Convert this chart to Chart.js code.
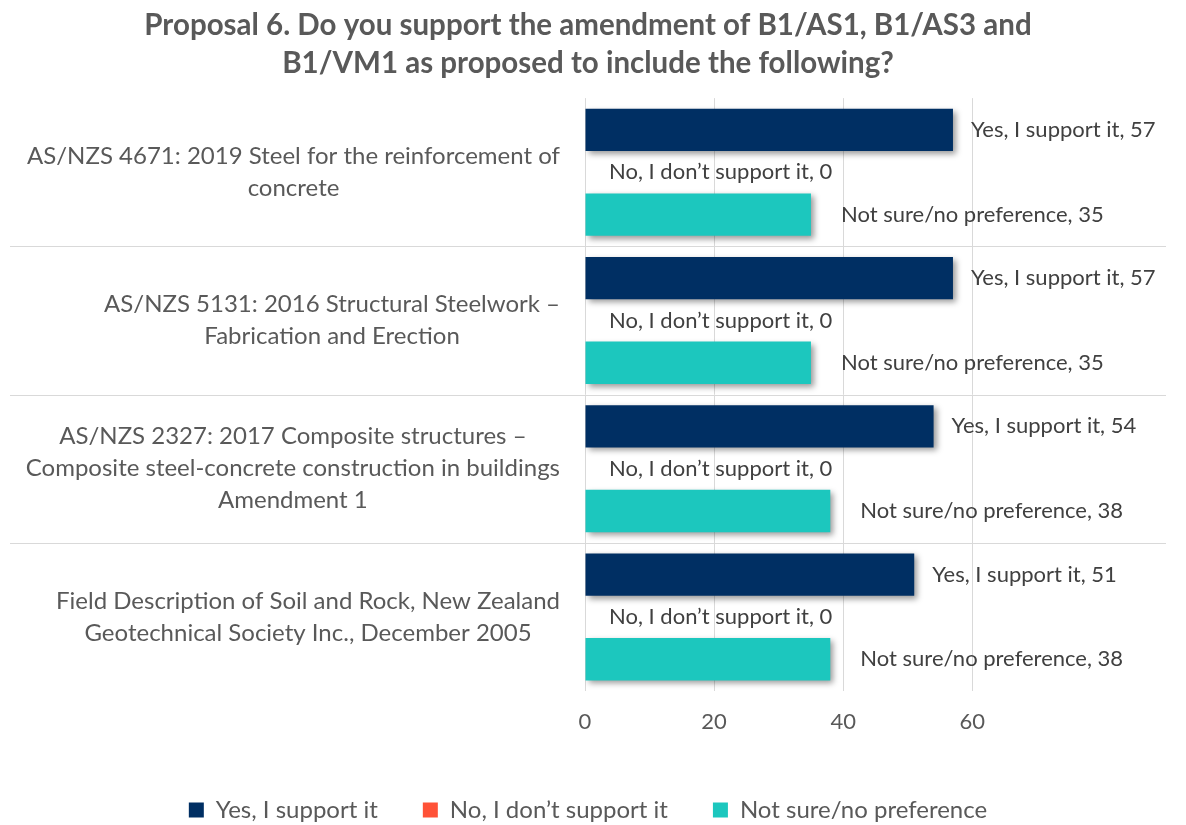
<!DOCTYPE html>
<html>
<head>
<meta charset="utf-8">
<script src="https://cdn.jsdelivr.net/npm/chart.js@4.4.1/dist/chart.umd.min.js"></script>
<style>
    body { margin: 0; background: #ffffff; }
    #wrap { width: 1186px; height: 825px; }
</style>
</head>
<body>
<div id="wrap"><canvas id="proposalChart"></canvas></div>
<script>
const categories = [
    ['AS/NZS 4671: 2019 Steel for the reinforcement of', 'concrete'],
    ['AS/NZS 5131: 2016 Structural Steelwork –', 'Fabrication and Erection'],
    ['AS/NZS 2327: 2017 Composite structures –', 'Composite steel-concrete construction in buildings', 'Amendment 1'],
    ['Field Description of Soil and Rock, New Zealand', 'Geotechnical Society Inc., December 2005']
];
const seriesNames = ['Yes, I support it', 'No, I don’t support it', 'Not sure/no preference'];
const yesValues = [57, 57, 54, 51];
const noValues = [0, 0, 0, 0];
const notSureValues = [35, 35, 38, 38];
const xTickValues = [0, 20, 40, 60];

const FONT = 'Lato, "Open Sans", sans-serif';
const TEXT_COLOR = '#595959';
const GRID_COLOR = '#d9d9d9';
const labelGap = [18, 24, 30]; // distance of the data label from bar end, per series

// separators between categories + Excel-like shadow under the bars
const barShadow = {
    id: 'barShadow',
    beforeDatasetsDraw(chart) {
        const { ctx, chartArea, scales: { y } } = chart;
        ctx.save();
        ctx.strokeStyle = GRID_COLOR;
        ctx.lineWidth = 1;
        for (let i = 1; i < categories.length; i++) {
            const yy = Math.round((y.getPixelForValue(i - 1) + y.getPixelForValue(i)) / 2) + 0.5;
            ctx.beginPath();
            ctx.moveTo(10, yy);
            ctx.lineTo(chartArea.right, yy);
            ctx.stroke();
        }
        ctx.restore();

        ctx.save();
        ctx.shadowColor = 'rgba(0, 0, 0, 0.4)';
        ctx.shadowBlur = 6;
        ctx.shadowOffsetX = 3;
        ctx.shadowOffsetY = 3;
    },
    afterDatasetsDraw(chart) {
        chart.ctx.restore();
    }
};

// category labels: block right-aligned to the axis, lines centred in the block
const categoryLabels = {
    id: 'categoryLabels',
    afterDraw(chart) {
        const { ctx, scales: { y } } = chart;
        ctx.save();
        ctx.font = `24px ${FONT}`;
        ctx.fillStyle = TEXT_COLOR;
        ctx.textAlign = 'center';
        ctx.textBaseline = 'middle';
        categories.forEach((lines, i) => {
            const w = Math.max(...lines.map(l => ctx.measureText(l).width));
            const cx = y.right - 25 - w / 2;
            const cy = y.getPixelForValue(i);
            lines.forEach((line, k) => {
                ctx.fillText(line, cx, cy + (k - (lines.length - 1) / 2) * 32);
            });
        });
        ctx.restore();
    }
};

// "Series, value" labels to the right of each bar
const barLabels = {
    id: 'barLabels',
    afterDatasetsDraw(chart) {
        const { ctx } = chart;
        ctx.save();
        ctx.font = `22px ${FONT}`;
        ctx.fillStyle = '#404040';
        ctx.textAlign = 'left';
        ctx.textBaseline = 'middle';
        chart.data.datasets.forEach((ds, di) => {
            const meta = chart.getDatasetMeta(di);
            meta.data.forEach((bar, i) => {
                ctx.fillText(`${ds.label}, ${ds.data[i]}`, bar.x + labelGap[di], bar.y);
            });
        });
        ctx.restore();
    }
};

const ctx = document.getElementById('proposalChart');
new Chart(ctx, {
    type: 'bar',
    data: {
        labels: categories,
        datasets: [
            { label: seriesNames[0], data: yesValues, backgroundColor: '#002f63' },
            { label: seriesNames[1], data: noValues, backgroundColor: '#ff5237' },
            { label: seriesNames[2], data: notSureValues, backgroundColor: '#1cc7be' }
        ]
    },
    options: {
        indexAxis: 'y',
        responsive: true,
        maintainAspectRatio: false,
        animation: false,
        datasets: {
            bar: { barPercentage: 1, categoryPercentage: 0.857, borderWidth: 0 }
        },
        layout: { padding: { left: 10, right: 20, top: 0, bottom: 0 } },
        scales: {
            x: {
                min: 0,
                max: 90,
                afterBuildTicks: scale => { scale.ticks = xTickValues.map(v => ({ value: v })); },
                grid: { color: GRID_COLOR, drawTicks: false },
                border: { display: false },
                ticks: { color: TEXT_COLOR, font: { family: FONT, size: 22, lineHeight: 1.0 }, padding: 20 }
            },
            y: {
                grid: { display: false },
                border: { display: false },
                ticks: { display: false },
                afterFit: scale => { scale.width = 575; }
            }
        },
        plugins: {
            title: {
                display: true,
                text: ['Proposal 6. Do you support the amendment of B1/AS1, B1/AS3 and',
                       'B1/VM1 as proposed to include the following?'],
                color: TEXT_COLOR,
                font: { family: FONT, size: 29.5, weight: 'bold', lineHeight: 1.29 },
                padding: { top: 6, bottom: 16 }
            },
            legend: {
                position: 'bottom',
                maxHeight: 72,
                labels: {
                    boxWidth: 15,
                    boxHeight: 15,
                    padding: 45,
                    color: TEXT_COLOR,
                    font: { family: FONT, size: 24 }
                }
            },
            tooltip: { enabled: false }
        }
    },
    plugins: [barShadow, categoryLabels, barLabels]
});
</script>
</body>
</html>
